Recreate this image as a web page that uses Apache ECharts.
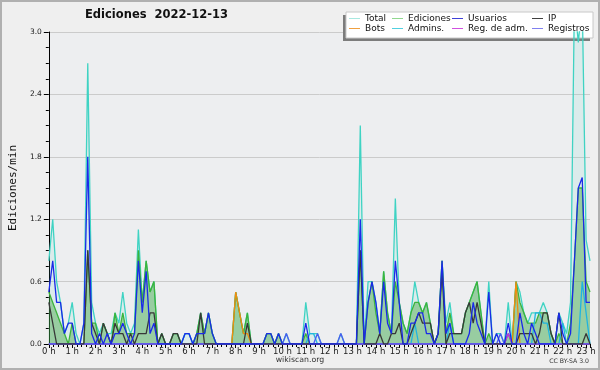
<!DOCTYPE html>
<html>
<head>
<meta charset="utf-8">
<script src="https://cdn.jsdelivr.net/npm/echarts@6/dist/echarts.min.js"></script>
<style>
html, body { margin: 0; padding: 0; background: #efefef; }
#chart { width: 600px; height: 370px; }
</style>
</head>
<body>
<div id="chart"></div>
<script>
// ediciones/min por tramo de 10 min, de 0h00 a 23h10 (6 valores por hora)
var total = [
  0.8, 1.2, 0.6, 0.4, 0.1, 0.2,   0.4, 0.1, 0, 0.2, 2.7, 0.4,
  0.2, 0.1, 0.2, 0.1, 0.1, 0.3,   0.2, 0.5, 0.2, 0.1, 0.2, 1.1,
  0.4, 0.8, 0.5, 0.6, 0, 0.1,     0, 0, 0.1, 0.1, 0, 0.1,
  0.1, 0, 0.1, 0.3, 0.1, 0.3,     0.1, 0, 0, 0, 0, 0,
  0.5, 0.3, 0.1, 0.3, 0, 0,       0, 0, 0.1, 0.1, 0, 0.1,
  0, 0.1, 0, 0, 0, 0,             0.4, 0.1, 0.1, 0.1, 0, 0,
  0, 0, 0, 0.1, 0, 0,             0, 0, 2.1, 0, 0.6, 0.6,
  0.4, 0.1, 0.7, 0.3, 0.1, 1.4,   0.4, 0.2, 0.1, 0.3, 0.6, 0.4,
  0.3, 0.4, 0.2, 0, 0.1, 0.8,     0.2, 0.4, 0.1, 0.1, 0.1, 0.3,
  0.4, 0.5, 0.6, 0.3, 0, 0.6,     0, 0.1, 0.1, 0, 0.4, 0,
  0.6, 0.5, 0.3, 0.2, 0.3, 0.3,   0.3, 0.4, 0.3, 0.1, 0, 0.3,
  0.2, 0.1, 0.4, 3.3, 2.9, 3.3,   1.0, 0.8
];
var ediciones = [
  0.5, 0.4, 0.3, 0.2, 0.1, 0,     0.2, 0, 0, 0, 0.9, 0.2,
  0.2, 0, 0.2, 0.1, 0, 0.3,       0.1, 0.3, 0.1, 0.1, 0.1, 0.9,
  0.4, 0.8, 0.5, 0.6, 0, 0.1,     0, 0, 0.1, 0.1, 0, 0,
  0, 0, 0.1, 0.3, 0.1, 0.3,       0.1, 0, 0, 0, 0, 0,
  0.5, 0.3, 0.1, 0.3, 0, 0,       0, 0, 0.1, 0.1, 0, 0.1,
  0, 0, 0, 0, 0, 0,               0.1, 0, 0, 0, 0, 0,
  0, 0, 0, 0, 0, 0,               0, 0, 0.9, 0, 0.4, 0.6,
  0.3, 0.1, 0.7, 0.3, 0.1, 0.6,   0.4, 0.2, 0.1, 0.3, 0.4, 0.4,
  0.3, 0.4, 0.2, 0, 0.1, 0.8,     0.1, 0.3, 0.1, 0.1, 0.1, 0.3,
  0.4, 0.5, 0.6, 0.3, 0, 0.1,     0, 0, 0, 0, 0.1, 0,
  0.6, 0.4, 0.3, 0.2, 0.2, 0.2,   0.3, 0.3, 0.3, 0.1, 0, 0.1,
  0, 0, 0.2, 0.8, 1.5, 1.5,       0.6, 0.5
];
var usuarios = [
  0.5, 0.8, 0.4, 0.4, 0.1, 0.2,   0.2, 0, 0, 0.2, 1.8, 0.1,
  0, 0.1, 0, 0.1, 0, 0.1,         0.1, 0.2, 0.1, 0, 0.1, 0.8,
  0.3, 0.7, 0.1, 0.2, 0, 0,       0, 0, 0, 0, 0, 0.1,
  0.1, 0, 0.1, 0.1, 0.1, 0.3,     0.1, 0, 0, 0, 0, 0,
  0, 0, 0, 0, 0, 0,               0, 0, 0.1, 0.1, 0, 0.1,
  0, 0, 0, 0, 0, 0,               0.2, 0, 0, 0, 0, 0,
  0, 0, 0, 0, 0, 0,               0, 0, 1.2, 0, 0.4, 0.6,
  0.4, 0.1, 0.6, 0.2, 0.1, 0.8,   0.4, 0, 0, 0.2, 0.2, 0.3,
  0.3, 0.1, 0.1, 0, 0.1, 0.8,     0.1, 0.2, 0, 0, 0, 0,
  0.1, 0.4, 0.2, 0.1, 0, 0.5,     0, 0.1, 0, 0, 0.2, 0,
  0, 0.3, 0.1, 0, 0.2, 0.1,       0, 0, 0, 0, 0, 0.3,
  0.1, 0, 0.1, 0.8, 1.5, 1.6,     0.4, 0.4
];
var ip = [
  0.4, 0.2, 0, 0, 0, 0,           0, 0, 0, 0, 0.9, 0.2,
  0.1, 0, 0.2, 0.1, 0, 0.2,       0.1, 0.1, 0, 0.1, 0, 0.1,
  0.1, 0.1, 0.3, 0.3, 0, 0.1,     0, 0, 0.1, 0.1, 0, 0,
  0, 0, 0, 0.3, 0, 0,             0, 0, 0, 0, 0, 0,
  0, 0, 0, 0.2, 0, 0,             0, 0, 0, 0, 0, 0,
  0, 0, 0, 0, 0, 0,               0, 0, 0, 0, 0, 0,
  0, 0, 0, 0, 0, 0,               0, 0, 0.9, 0, 0, 0,
  0, 0.1, 0, 0, 0.1, 0.1,         0.2, 0, 0, 0.1, 0.2, 0.3,
  0.2, 0.2, 0.2, 0, 0.1, 0.7,     0, 0.1, 0.1, 0.1, 0.1, 0.3,
  0.4, 0.2, 0.4, 0.2, 0, 0,       0, 0, 0, 0, 0, 0,
  0, 0.1, 0.1, 0.1, 0.1, 0,       0.1, 0.3, 0.3, 0.1, 0, 0.3,
  0, 0, 0, 0, 0, 0,               0.1, 0
];
var bots = [
  0, 0, 0, 0, 0, 0,   0, 0, 0, 0, 0, 0,
  0, 0, 0, 0, 0, 0,   0, 0, 0, 0, 0, 0,
  0, 0, 0, 0, 0, 0,   0, 0, 0, 0, 0, 0,
  0, 0, 0, 0, 0, 0,   0, 0, 0, 0, 0, 0,
  0.5, 0.3, 0.1, 0.1, 0, 0,   0, 0, 0, 0, 0, 0,
  0, 0, 0, 0, 0, 0,   0, 0, 0, 0, 0, 0,
  0, 0, 0, 0, 0, 0,   0, 0, 0, 0, 0, 0,
  0, 0, 0, 0, 0, 0,   0, 0, 0, 0, 0, 0,
  0, 0, 0, 0, 0, 0,   0, 0, 0, 0, 0, 0,
  0, 0, 0, 0, 0, 0,   0, 0, 0, 0, 0, 0,
  0.6, 0, 0, 0, 0, 0,   0, 0, 0, 0, 0, 0,
  0, 0, 0, 0, 0, 0,   0, 0
];
var admins = [
  0, 0, 0, 0, 0, 0,   0, 0, 0, 0, 0, 0,
  0, 0, 0, 0, 0, 0,   0, 0, 0, 0, 0, 0,
  0, 0, 0, 0, 0, 0,   0, 0, 0, 0, 0, 0.1,
  0.1, 0, 0, 0, 0, 0,   0, 0, 0, 0, 0, 0,
  0, 0, 0, 0, 0, 0,   0, 0, 0, 0, 0, 0,
  0, 0, 0, 0, 0, 0,   0, 0.1, 0.1, 0, 0, 0,
  0, 0, 0, 0, 0, 0,   0, 0, 0, 0, 0, 0,
  0, 0, 0, 0, 0, 0,   0, 0, 0, 0, 0.2, 0,
  0, 0, 0, 0, 0, 0,   0, 0.2, 0, 0, 0, 0,
  0, 0, 0, 0, 0, 0,   0, 0, 0, 0, 0, 0,
  0, 0, 0, 0, 0, 0.3,   0.3, 0.2, 0.2, 0, 0, 0,
  0.2, 0, 0, 0, 0, 0.6,   0.3, 0
];
var regAdm = [
  0, 0, 0, 0, 0, 0,   0, 0, 0, 0, 0, 0,
  0, 0, 0, 0, 0, 0,   0, 0, 0, 0, 0, 0,
  0, 0, 0, 0, 0, 0,   0, 0, 0, 0, 0, 0,
  0, 0, 0, 0, 0, 0,   0, 0, 0, 0, 0, 0,
  0, 0, 0, 0, 0, 0,   0, 0, 0, 0, 0, 0,
  0, 0, 0, 0, 0, 0,   0, 0, 0, 0, 0, 0,
  0, 0, 0, 0, 0, 0,   0, 0, 0, 0, 0, 0,
  0, 0, 0, 0, 0, 0,   0, 0, 0, 0, 0, 0,
  0, 0, 0, 0, 0, 0,   0, 0, 0, 0, 0, 0,
  0, 0, 0, 0, 0, 0,   0, 0, 0, 0, 0.1, 0,
  0, 0, 0, 0, 0, 0,   0, 0, 0, 0, 0, 0,
  0, 0, 0, 0, 0, 0,   0, 0
];
var registros = [
  0, 0, 0, 0, 0, 0,   0, 0, 0, 0, 0, 0,
  0, 0, 0, 0, 0, 0,   0, 0, 0, 0, 0, 0,
  0, 0, 0, 0, 0, 0,   0, 0, 0, 0, 0, 0,
  0, 0, 0, 0, 0, 0,   0, 0, 0, 0, 0, 0,
  0, 0, 0, 0, 0, 0,   0, 0, 0, 0, 0, 0,
  0, 0.1, 0, 0, 0, 0,   0, 0, 0, 0.1, 0, 0,
  0, 0, 0, 0.1, 0, 0,   0, 0, 0, 0, 0, 0,
  0, 0, 0, 0, 0, 0,   0, 0, 0, 0, 0, 0,
  0, 0, 0, 0, 0, 0,   0, 0, 0, 0, 0, 0,
  0, 0, 0, 0, 0, 0,   0, 0, 0.1, 0, 0, 0,
  0, 0, 0, 0, 0, 0,   0, 0, 0, 0, 0, 0,
  0, 0, 0, 0, 0, 0,   0, 0
];
var yTicks = [0, 0.6, 1.2, 1.8, 2.4, 3.0];

var chart = echarts.init(document.getElementById('chart'), null, { renderer: 'canvas' });

// hora de cada tramo
var hours = total.map(function (v, i) { return i / 6; });
function pts(arr) {
  return arr.map(function (v, i) { return [hours[i], v]; });
}

function serie(name, data, color, area, z) {
  var s = {
    name: name,
    type: 'line',
    data: pts(data),
    symbol: 'none',
    z: z,
    lineStyle: { color: color, width: 1.3 },
    itemStyle: { color: color }
  };
  if (area) s.areaStyle = { color: area, opacity: 1 };
  return s;
}

// leyenda en 2 filas x 4 columnas
var legendItems = [
  { name: 'Total', left: 349, top: 14, color: '#a8e8e0' },
  { name: 'Ediciones', left: 392, top: 14, color: '#90d890' },
  { name: 'Usuarios', left: 452, top: 14, color: '#4040d8' },
  { name: 'IP', left: 532, top: 14, color: '#404040' },
  { name: 'Bots', left: 349, top: 24, color: '#f0a040' },
  { name: 'Admins.', left: 392, top: 24, color: '#50d0e0' },
  { name: 'Reg. de adm.', left: 452, top: 24, color: '#d050e0' },
  { name: 'Registros', left: 532, top: 24, color: '#8080f0' }
];

var font = 'DejaVu Sans';

chart.setOption({
  animation: false,
  backgroundColor: '#efefef',
  title: [
    {
      text: 'Ediciones  2022-12-13', left: 85, top: 9, padding: 0,
      textStyle: { fontFamily: font, fontWeight: 'bold', fontSize: 11.5, color: '#111' }
    },
    {
      text: 'wikiscan.org', left: 'center', top: 356, padding: 0,
      textStyle: { fontFamily: font, fontWeight: 'normal', fontSize: 7.8, color: '#333' }
    },
    {
      text: 'CC BY-SA 3.0', right: 11, top: 358, padding: 0,
      textStyle: { fontFamily: font, fontWeight: 'normal', fontSize: 6.2, color: '#333' }
    }
  ],
  graphic: [
    { type: 'rect', z: -10, shape: { x: 1, y: 1, width: 598, height: 368 },
      style: { fill: null, stroke: '#b0b0b0', lineWidth: 2 } },
    { type: 'rect', z: 1, shape: { x: 343, y: 15, width: 247, height: 26 }, style: { fill: '#7c7c7c' } },
    { type: 'rect', z: 1, shape: { x: 346, y: 12, width: 247, height: 26 },
      style: { fill: '#ffffff', stroke: '#c8c8c8', lineWidth: 1 } }
  ],
  legend: legendItems.map(function (l) {
    return {
      data: [l.name], left: l.left, top: l.top, padding: 0,
      icon: 'rect', itemWidth: 11, itemHeight: 1, itemGap: 0,
      itemStyle: { color: l.color },
      selectedMode: false,
      textStyle: { fontFamily: font, fontSize: 9, color: '#111', padding: [0, 0, 0, 0] }
    };
  }),
  grid: {
    left: 46, right: 10, top: 32, bottom: 26,
    show: true, backgroundColor: '#edeef0', borderWidth: 0
  },
  xAxis: {
    type: 'value', min: 0, max: 139 / 6, interval: 1,
    axisLine: { lineStyle: { color: '#000', width: 1 } },
    axisTick: { length: 4, lineStyle: { color: '#000' } },
    minorTick: { show: true, splitNumber: 5, length: 3, lineStyle: { color: '#000' } },
    splitLine: { show: false },
    axisLabel: {
      fontFamily: font, fontSize: 8.5, color: '#222', margin: 3,
      showMaxLabel: false,
      formatter: function (v) { return Number.isInteger(v) ? v + ' h' : ''; }
    }
  },
  yAxis: {
    type: 'value', min: yTicks[0], max: yTicks[yTicks.length - 1], interval: 0.6,
    name: 'Ediciones/min', nameLocation: 'middle', nameGap: 29, nameRotate: 90,
    nameTextStyle: { fontFamily: 'DejaVu Sans Mono', fontSize: 11, color: '#111' },
    axisLine: { show: true, lineStyle: { color: '#000', width: 1 } },
    axisTick: { show: true, length: 5, lineStyle: { color: '#000' } },
    minorTick: { show: true, splitNumber: 4, length: 3, lineStyle: { color: '#000' } },
    splitLine: { lineStyle: { color: '#cbcbcb' } },
    axisLabel: {
      fontFamily: font, fontSize: 7.5, color: '#222', margin: 7,
      formatter: function (v) { return v.toFixed(1); }
    }
  },
  series: [
    serie('Total', total, '#3fd3c3', 'rgba(64,214,196,0.1)', 2),
    serie('Ediciones', ediciones, '#3cb43c', 'rgba(60,165,60,0.42)', 3),
    serie('Bots', bots, '#f08c10', null, 4),
    serie('Admins.', admins, '#20b4e0', null, 4),
    serie('Reg. de adm.', regAdm, '#c030e0', null, 4),
    serie('Registros', registros, '#4a5cf0', null, 4),
    serie('IP', ip, '#383838', null, 5),
    serie('Usuarios', usuarios, '#1a2ae8', null, 6)
  ]
});
</script>
</body>
</html>
